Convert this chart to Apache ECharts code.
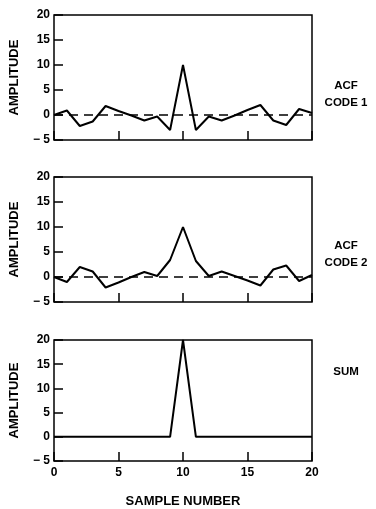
<!DOCTYPE html>
<html>
<head>
<meta charset="utf-8">
<script src="https://cdn.jsdelivr.net/npm/echarts@6/dist/echarts.min.js"></script>
<style>
  html, body { margin: 0; padding: 0; background: #fff; }
  #chart { width: 376px; height: 509px; }
</style>
</head>
<body>
<div id="chart"></div>
<script>
// sample index 0..20
const samples = [0, 1, 2, 3, 4, 5, 6, 7, 8, 9, 10, 11, 12, 13, 14, 15, 16, 17, 18, 19, 20];

const acfCode1 = [0, 0.9, -2.2, -1.3, 1.8, 0.8, -0.1, -1.1, -0.3, -3, 10, -3, -0.3, -1.1, -0.1, 1.0, 2.0, -1.1, -2.0, 1.2, 0.4];
const acfCode2 = [0, -1.0, 2.0, 1.1, -2.1, -1.1, 0, 1.0, 0.2, 3.4, 10, 3.2, 0.2, 1.1, 0.2, -0.7, -1.7, 1.5, 2.3, -0.8, 0.4];
const acfSum   = [0, 0, 0, 0, 0, 0, 0, 0, 0, 0, 20, 0, 0, 0, 0, 0, 0, 0, 0, 0, 0];

const xTicks = [0, 5, 10, 15, 20];
const yTicks = [-5, 0, 5, 10, 15, 20];
const panelLabels = ["ACF\nCODE 1", "ACF\nCODE 2", "SUM"];

const FONT = "'Liberation Sans', Arial, sans-serif";
const chart = echarts.init(document.getElementById("chart"), null, { renderer: "canvas" });

const gridTops = [15, 177, 340];
const labelY = [94, 254, 372];
const panels = [acfCode1, acfCode2, acfSum];

const grids = gridTops.map((top) => ({
  left: 54, width: 258, top, height: 125,
  show: true, borderColor: "#000", borderWidth: 1.5,
}));

const xAxes = gridTops.map((_, i) => ({
  type: "value", gridIndex: i,
  min: xTicks[0], max: xTicks[xTicks.length - 1], interval: 5,
  axisLine: { show: false, onZero: false },
  axisTick: { show: true, inside: true, length: 9, lineStyle: { color: "#000", width: 1.5 } },
  splitLine: { show: false },
  axisLabel: {
    show: i === 2, margin: 6, color: "#000",
    fontFamily: FONT, fontSize: 12, fontWeight: "bold",
  },
  name: i === 2 ? "SAMPLE NUMBER" : "",
  nameLocation: "middle", nameGap: 34,
  nameTextStyle: { color: "#000", fontFamily: FONT, fontSize: 13, fontWeight: "bold" },
}));

const yAxes = gridTops.map((_, i) => ({
  type: "value", gridIndex: i,
  min: yTicks[0], max: yTicks[yTicks.length - 1], interval: 5,
  axisLine: { show: false, onZero: false },
  axisTick: { show: true, inside: true, length: 9, lineStyle: { color: "#000", width: 1.5 } },
  splitLine: { show: false },
  axisLabel: {
    margin: 4, color: "#000", fontFamily: FONT, fontSize: 12, fontWeight: "bold",
    formatter: (v) => (v < 0 ? "\u2212 " + Math.abs(v) : String(v)),
  },
  name: "AMPLITUDE", nameLocation: "middle", nameGap: 33, nameRotate: 90,
  nameTextStyle: { color: "#000", fontFamily: FONT, fontSize: 13, fontWeight: "bold" },
}));

const series = panels.map((vals, i) => ({
  type: "line", xAxisIndex: i, yAxisIndex: i,
  data: samples.map((s, k) => [s, vals[k]]),
  symbol: "none", animation: false,
  lineStyle: { color: "#000", width: 2 },
  markLine: i === 2 ? undefined : {
    silent: true, symbol: "none", animation: false,
    label: { show: false },
    lineStyle: { color: "#000", width: 1.5, type: [9, 6] },
    data: [{ yAxis: 0 }],
  },
}));

const graphic = panelLabels.map((t, i) => ({
  type: "text", x: 346, y: labelY[i],
  style: {
    text: t, align: "center", verticalAlign: "middle",
    font: "bold 11.5px " + FONT, fill: "#000", lineHeight: 17,
  },
}));

chart.setOption({
  animation: false,
  backgroundColor: "#fff",
  grid: grids,
  xAxis: xAxes,
  yAxis: yAxes,
  series,
  graphic,
});
</script>
</body>
</html>
